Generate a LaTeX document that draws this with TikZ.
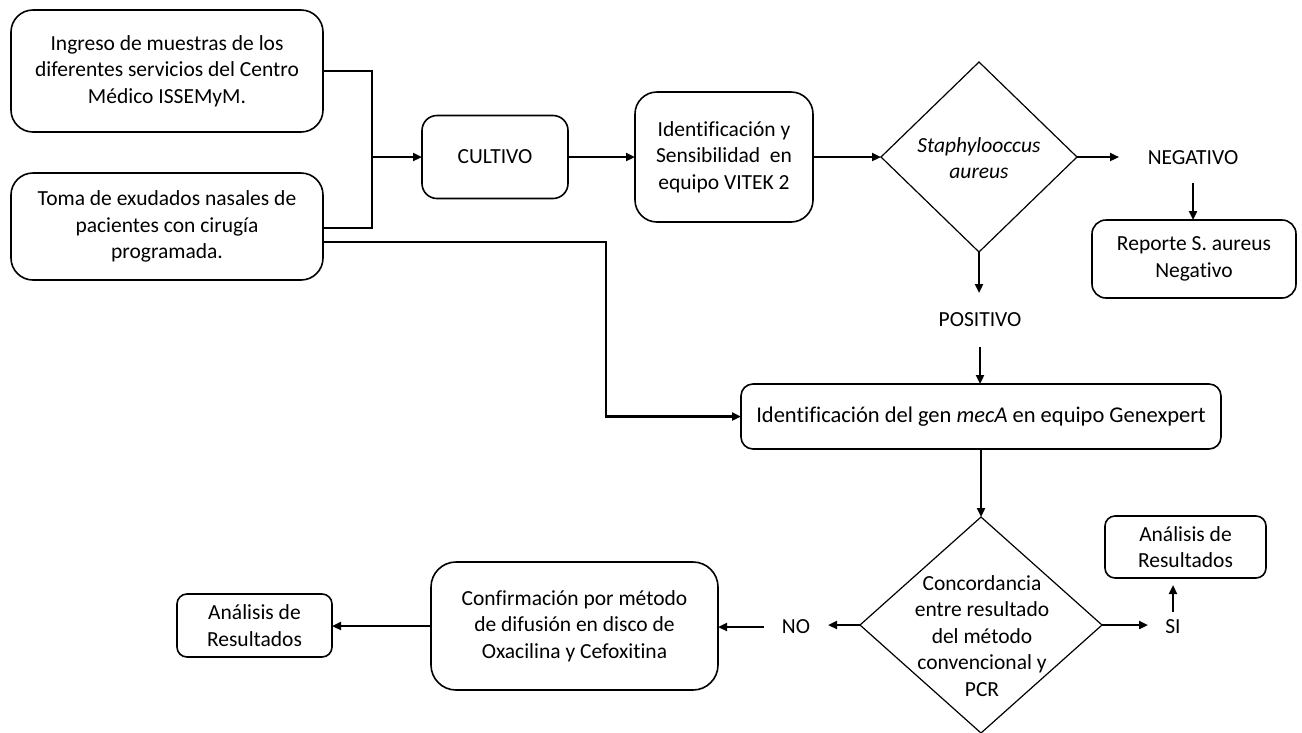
\documentclass[tikz,border=0pt]{standalone}
\usepackage{fontspec}
\setmainfont{Carlito}[Ligatures=CommonOff]
\usetikzlibrary{arrows.meta,shapes.geometric}
\begin{document}
\begin{tikzpicture}[x=1pt,y=-1pt,
  every node/.style={font=\fontsize{21.5}{26.5}\selectfont, inner sep=0pt, outer sep=0pt, align=center},
  box/.style={draw, line width=1.6pt, rectangle},
  dec/.style={draw, line width=1.2pt, shape=diamond},
  lbl/.style={},
  arr/.style={line width=2.2pt, -{Triangle[length=9pt,width=8pt]}},
  ln/.style={line width=2.2pt}
]
\useasboundingbox (0,0) rectangle (1302,732);
% boxes
\node[box, rounded corners=22pt, minimum width=312pt, minimum height=122pt] (A) at (167,71)
  {Ingreso de muestras de los\\diferentes servicios del Centro\\Médico ISSEMyM.};
\node[box, rounded corners=22pt, minimum width=312pt, minimum height=107pt] (B) at (167,226.5)
  {Toma de exudados nasales de\\pacientes con cirugía\\programada.};
\node[box, rounded corners=15pt, minimum width=146pt, minimum height=83pt] (cult) at (495,157) {CULTIVO};
\node[box, rounded corners=22pt, minimum width=178pt, minimum height=130pt] (vitek) at (724,157)
  {Identificación y\\Sensibilidad\ \ en\\equipo VITEK 2};
\node[dec, minimum width=196pt, minimum height=190pt] (d1) at (979,157) {};
\node (d1t) at (979,158) {\itshape Staphylooccus\\\itshape aureus};
\node[lbl, minimum width=148pt, minimum height=50pt] (neg) at (1193,158) {NEGATIVO};
\node[box, rounded corners=14pt, minimum width=204pt, minimum height=78pt] (rep) at (1194,259)
  {Reporte S. aureus\\Negativo};
\node[lbl, minimum width=90pt, minimum height=54pt] (pos) at (980,320) {POSITIVO};
\node[box, rounded corners=12pt, minimum width=480pt, minimum height=65pt,
  font=\fontsize{22.5}{26.5}\selectfont] (gen) at (981,416.5)
  {Identificación del gen \textit{mecA} en equipo Genexpert};
\node[dec, minimum width=242pt, minimum height=216pt] (d2) at (981,625) {};
\node (d2t) at (982,636) {Concordancia\\entre resultado\\del método\\convencional y\\PCR};
\node[lbl, minimum width=64pt, minimum height=30pt] (no) at (796,627) {NO};
\node[lbl, minimum width=50pt, minimum height=30pt] (si) at (1173,627) {SI};
\node[box, rounded corners=25pt, minimum width=287pt, minimum height=128pt] (conf) at (574.5,626)
  {Confirmación por método\\de difusión en disco de\\Oxacilina y Cefoxitina};
\node[box, rounded corners=10pt, minimum width=155pt, minimum height=63pt] (an1) at (254.5,625.5)
  {Análisis de\\Resultados};
\node[box, rounded corners=10pt, minimum width=161pt, minimum height=62pt] (an2) at (1185.5,547)
  {Análisis de\\Resultados};
% connectors
\coordinate (jt) at (372,71);
\coordinate (jb) at (372,228);
\coordinate (jm) at (372,157);
\coordinate (k) at (606,242);
\draw[ln] (A.east |- jt) -- (jt) -- (jb) -- (B.east |- jb);
\draw[arr] (jm) -- (cult.west);
\draw[arr] (cult.east) -- (vitek.west);
\draw[arr] (vitek.east) -- (d1.west);
\draw[arr] (d1.east) -- (d1.east -| neg.west);
\draw[arr] (neg.south) -- (neg.south |- rep.north);
\draw[arr] (d1.south) -- (d1.south |- pos.north);
\draw[arr] (pos.south) -- (pos.south |- gen.north);
\draw[arr] (B.east |- k) -- (k) |- (gen.west);
\draw[arr] (gen.south) -- (gen.south |- d2.north);
\draw[arr] (d2.west) -- (d2.west -| no.east);
\draw[arr] (no.west) -- (no.west -| conf.east);
\draw[arr] (conf.west) -- (conf.west -| an1.east);
\draw[arr] (d2.east) -- (d2.east -| si.west);
\draw[arr, shorten >=7pt] (si.north) -- (si.north |- an2.south);
\end{tikzpicture}
\end{document}
